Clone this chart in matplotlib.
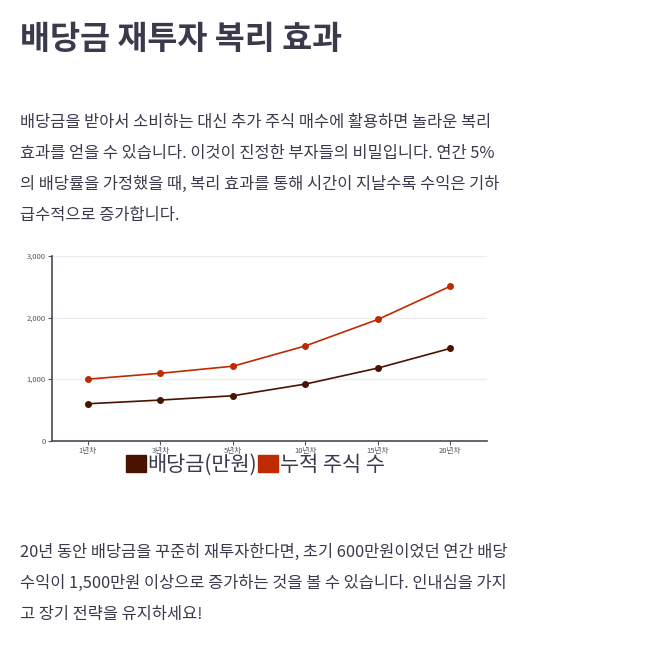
import matplotlib
matplotlib.use("Agg")
import matplotlib.pyplot as plt
from matplotlib.patches import Patch
from matplotlib.ticker import FuncFormatter

plt.rcParams['font.family'] = ['Noto Sans CJK KR', 'DejaVu Sans']

# data
years = ['1년차', '3년차', '5년차', '10년차', '15년차', '20년차']
dividend = [600, 660, 730, 920, 1180, 1500]
shares = [1000, 1095, 1210, 1540, 1970, 2510]
series_names = ['배당금(만원)', '누적 주식 수']

title = '배당금 재투자 복리 효과'
intro_lines = ['배당금을 받아서 소비하는 대신 추가 주식 매수에 활용하면 놀라운 복리',
               '효과를 얻을 수 있습니다. 이것이 진정한 부자들의 비밀입니다. 연간 5%',
               '의 배당률을 가정했을 때, 복리 효과를 통해 시간이 지날수록 수익은 기하',
               '급수적으로 증가합니다.']
outro_lines = ['20년 동안 배당금을 꾸준히 재투자한다면, 초기 600만원이었던 연간 배당',
               '수익이 1,500만원 이상으로 증가하는 것을 볼 수 있습니다. 인내심을 가지',
               '고 장기 전략을 유지하세요!']

DIV_COLOR = '#4a1200'
SHARE_COLOR = '#c02a00'
TEXT_COLOR = '#3b3a4c'

W, H = 667, 661
fig = plt.figure(figsize=(W / 100, H / 100), dpi=100)
fig.patch.set_facecolor('white')

# title + paragraphs, positions in pixels from the top
fig.text(20 / W, 1 - 39 / H, title, fontsize=23.5, fontweight='bold',
         color=TEXT_COLOR, va='center', ha='left')

for i, line in enumerate(intro_lines):
    fig.text(20 / W, 1 - (123 + i * 30.7) / H, line, fontsize=11.8,
             color=TEXT_COLOR, va='center', ha='left')

for i, line in enumerate(outro_lines):
    fig.text(20 / W, 1 - (552 + i * 31) / H, line, fontsize=11.8,
             color=TEXT_COLOR, va='center', ha='left')

# chart
ax = fig.add_axes([51.7 / W, 1 - 440.7 / H, 435 / W, 184.7 / H])
x = list(range(len(years)))
ax.plot(x, dividend, color=DIV_COLOR, lw=1.2, marker='o', ms=4)
ax.plot(x, shares, color=SHARE_COLOR, lw=1.2, marker='o', ms=4)

ax.set_xlim(-0.5, len(years) - 0.5)
ax.set_ylim(0, 3000)
ax.set_xticks(x)
ax.set_xticklabels(years)
ax.set_yticks([0, 1000, 2000, 3000])
ax.yaxis.set_major_formatter(FuncFormatter(lambda v, p: f'{int(v):,}'))
ax.tick_params(labelsize=5.5, colors='#555560', length=3, width=0.8, pad=1.5)
ax.grid(axis='y', color='#ececec', lw=0.8)
ax.set_axisbelow(True)
for side in ['top', 'right']:
    ax.spines[side].set_visible(False)
for side in ['left', 'bottom']:
    ax.spines[side].set_color('#4a4a58')
    ax.spines[side].set_linewidth(1.2)

handles = [Patch(color=DIV_COLOR), Patch(color=SHARE_COLOR)]
ax.legend(handles, series_names, ncol=2, frameon=False,
          loc='center', bbox_to_anchor=(0.4685, -0.13),
          fontsize=15, handlelength=0.92, handleheight=0.92,
          handletextpad=0.1, columnspacing=0.05, borderpad=0,
          labelcolor=TEXT_COLOR)

fig.savefig('out.png', dpi=100, facecolor='white')
